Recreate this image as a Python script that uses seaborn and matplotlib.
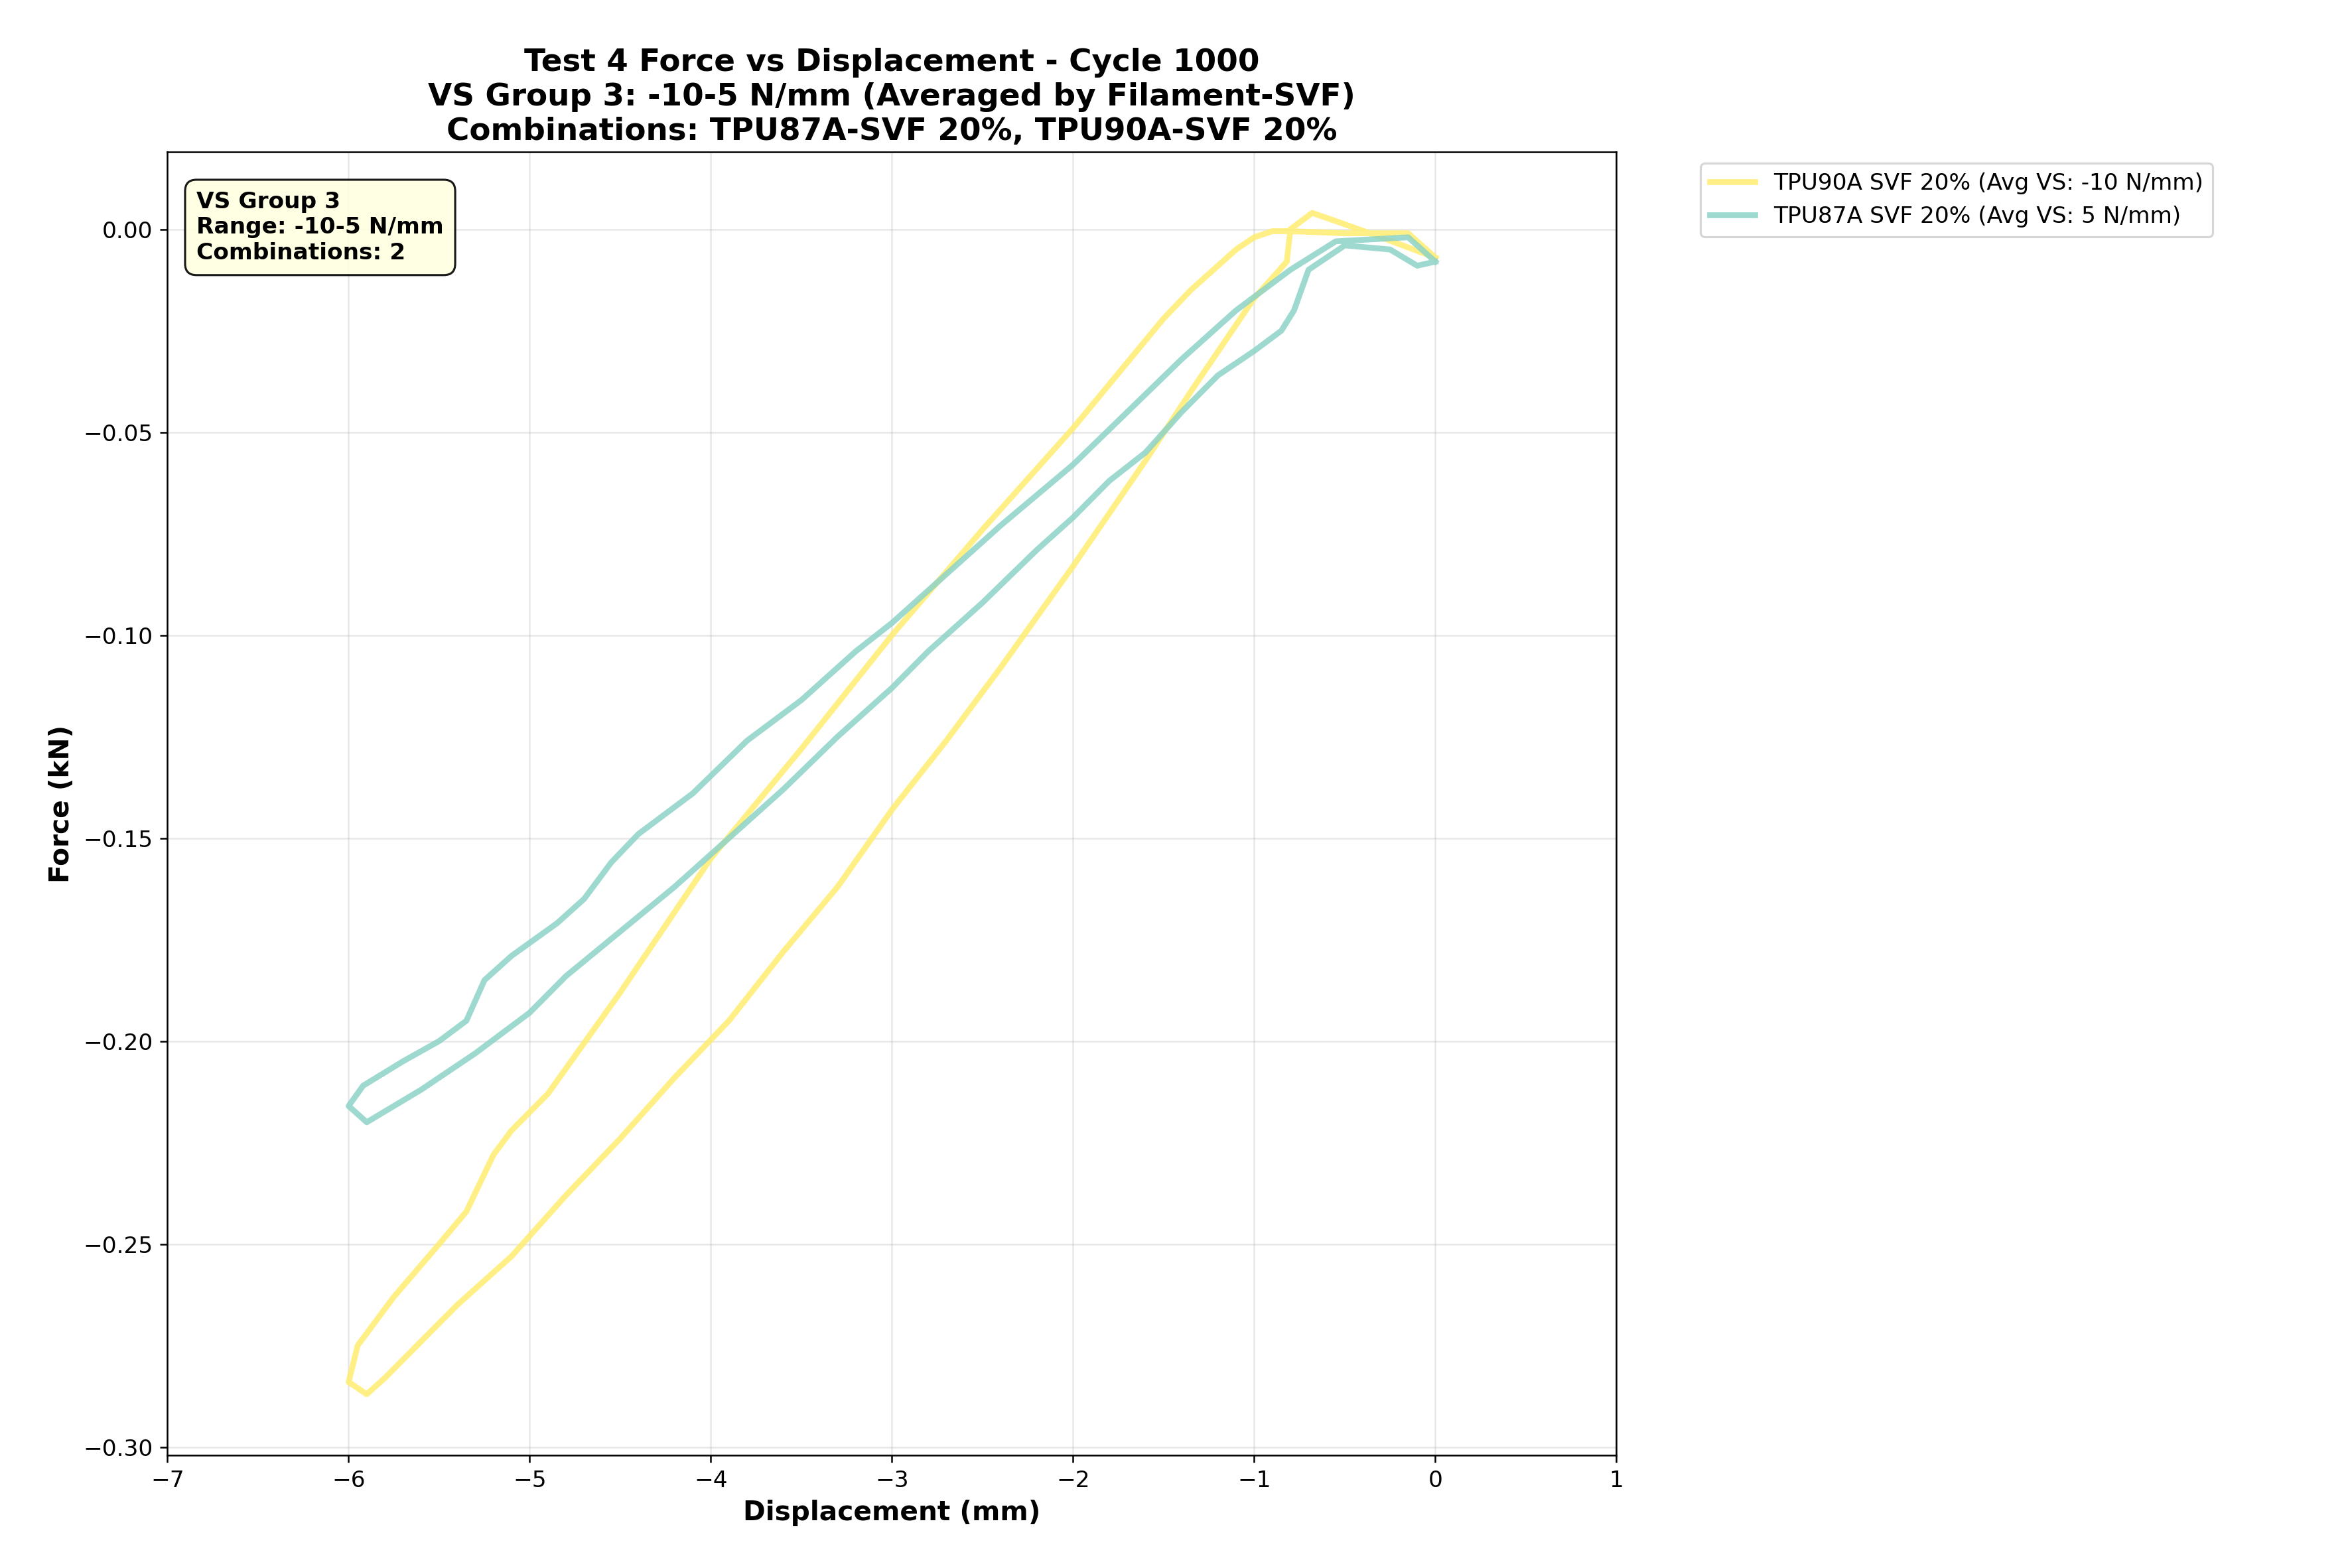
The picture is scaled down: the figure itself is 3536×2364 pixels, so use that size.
import matplotlib
matplotlib.use("Agg")
import matplotlib.pyplot as plt
import seaborn as sns
import pandas as pd

plt.rcdefaults()
plt.rcParams['font.family'] = ['DejaVu Sans']
plt.rcParams['font.size'] = 11

# TPU90A SVF 20% loop (displacement mm, force kN)
tpu90_x = [0, -0.15, -0.5, -0.8, -0.9, -1.0, -1.1, -1.2, -1.35, -1.5, -2.0, -2.5, -3.0, -3.5, -4.0, -4.5,
           -4.9, -5.1, -5.2, -5.35, -5.5, -5.75, -5.95, -6.0, -5.9, -5.8, -5.4, -5.1, -4.8, -4.5, -4.2,
           -3.9, -3.6, -3.3, -3.0, -2.7, -2.4, -2.0, -1.6, -1.35, -1.0, -0.82, -0.8, -0.68, -0.55, -0.3, 0]
tpu90_y = [-0.007, -0.001, -0.001, -0.0005, -0.0005, -0.002, -0.005, -0.009, -0.015, -0.022, -0.049, -0.074,
           -0.100, -0.128, -0.155, -0.188, -0.213, -0.222, -0.228, -0.242, -0.250, -0.263, -0.275, -0.284,
           -0.287, -0.283, -0.265, -0.253, -0.238, -0.224, -0.209, -0.195, -0.178, -0.162, -0.143, -0.126,
           -0.108, -0.083, -0.057, -0.040, -0.017, -0.008, 0.000, 0.004, 0.002, -0.002, -0.007]

# TPU87A SVF 20% loop
tpu87_x = [0, -0.15, -0.55, -0.8, -1.1, -1.4, -1.7, -2.0, -2.4, -2.7, -3.0, -3.2, -3.5, -3.8, -4.1, -4.4,
           -4.55, -4.7, -4.85, -5.1, -5.25, -5.35, -5.5, -5.7, -5.92, -6.0, -5.9, -5.6, -5.3, -5.0, -4.8,
           -4.5, -4.2, -3.9, -3.6, -3.3, -3.0, -2.8, -2.5, -2.2, -2.0, -1.8, -1.6, -1.4, -1.2, -1.0, -0.85,
           -0.78, -0.7, -0.5, -0.25, -0.1, 0]
tpu87_y = [-0.008, -0.002, -0.003, -0.010, -0.020, -0.032, -0.045, -0.058, -0.073, -0.085, -0.097, -0.104,
           -0.116, -0.126, -0.139, -0.149, -0.156, -0.165, -0.171, -0.179, -0.185, -0.195, -0.200, -0.205,
           -0.211, -0.216, -0.220, -0.212, -0.203, -0.193, -0.184, -0.173, -0.162, -0.150, -0.138, -0.125,
           -0.113, -0.104, -0.092, -0.079, -0.071, -0.062, -0.055, -0.045, -0.036, -0.030, -0.025, -0.020,
           -0.010, -0.004, -0.005, -0.009, -0.008]

labels = ["TPU90A SVF 20% (Avg VS: -10 N/mm)", "TPU87A SVF 20% (Avg VS: 5 N/mm)"]
colors = ["#ffed6f", "#8dd3c7"]

fig = plt.figure(figsize=(15.716, 10.507), dpi=225)
ax = fig.add_axes([0.0714, 0.072, 0.6176, 0.831])

for xs, ys, lab, col in zip([tpu90_x, tpu87_x], [tpu90_y, tpu87_y], labels, colors):
    df = pd.DataFrame({"x": xs, "y": ys})
    sns.lineplot(data=df, x="x", y="y", sort=False, estimator=None, ax=ax,
                 color=col, linewidth=2.8, alpha=0.85, label=lab)

ax.set_xlim(-7, 1)
ax.set_ylim(-0.302, 0.019)
ax.grid(True, alpha=0.3)
ax.tick_params(labelsize=11)
ax.set_xlabel("Displacement (mm)", fontsize=13, fontweight="bold")
ax.set_ylabel("Force (kN)", fontsize=13, fontweight="bold")
ax.set_title("Test 4 Force vs Displacement - Cycle 1000\nVS Group 3: -10-5 N/mm (Averaged by Filament-SVF)\n"
             "Combinations: TPU87A-SVF 20%, TPU90A-SVF 20%", fontsize=15, fontweight="bold")
ax.legend(bbox_to_anchor=(1.05, 1), loc="upper left", fontsize=11)
ax.text(0.02, 0.97, "VS Group 3\nRange: -10-5 N/mm\nCombinations: 2", transform=ax.transAxes,
        fontsize=11, fontweight="bold", va="top",
        bbox=dict(boxstyle="round,pad=0.5", facecolor="lightyellow", edgecolor="black", alpha=0.9))

fig.savefig("out.png", dpi=225)
